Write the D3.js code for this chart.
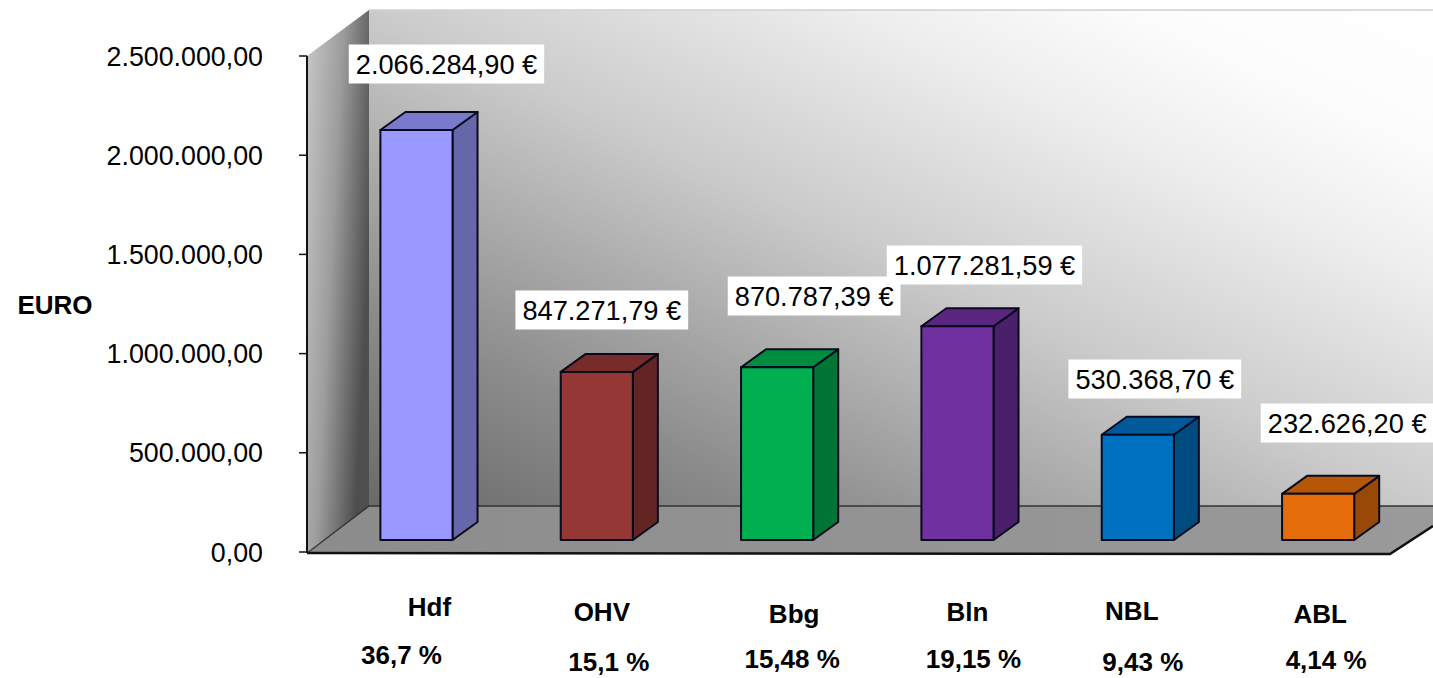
<!DOCTYPE html>
<html><head><meta charset="utf-8">
<script src="https://cdnjs.cloudflare.com/ajax/libs/d3/7.9.0/d3.min.js"></script>
<style>html,body{margin:0;padding:0;background:#fff;overflow:hidden}svg{display:block}text{font-family:"Liberation Sans",Arial,sans-serif;fill:#000}</style>
</head><body><svg id="c" width="1433" height="678"></svg>
<script>
const categories=["Hdf","OHV","Bbg","Bln","NBL","ABL"];
const values=[2066284.90,847271.79,870787.39,1077281.59,530368.70,232626.20];
const valueLabels=["2.066.284,90 €","847.271,79 €","870.787,39 €","1.077.281,59 €","530.368,70 €","232.626,20 €"];
const shares=["36,7 %","15,1 %","15,48 %","19,15 %","9,43 %","4,14 %"];
const tickValues=[0,500000,1000000,1500000,2000000,2500000];
const tickLabels=["0,00","500.000,00","1.000.000,00","1.500.000,00","2.000.000,00","2.500.000,00"];
const frontColors=["#9999ff","#953735","#00b050","#7030a0","#0070c0","#e46c0a"];
const topColors=["#7a7acc","#772c2a","#008d40","#5a2680","#005a9a","#b65608"];
const sideColors=["#6666aa","#632523","#007535","#4a206a","#004b80","#984807"];
// label placement, relative to the category slot
const labelDx=[30,5,37,27,17,29];
const labelCy=[64,310,296,265,379,423];
const catDx=[13,5,17,10,-6,2];
const catCy=[607,612,614,612,611,614];
const shareDx=[-15,12,15,16,5,8];
const shareCy=[655,662,659,659,662,660];

const svg=d3.select("#c");
const y=d3.scaleLinear().domain([0,2500000]).range([552,56]);
const x=d3.scaleBand().domain(categories).range([326.3,1408.3]).paddingInner(0.6).paddingOuter(0.3);
const deep={x:62,y:-46}, bd={x:25,y:-18}, base=12, ax=307;
const defs=svg.append("defs");
function grad(id,x1,y1,x2,y2,stops){
  const g=defs.append("linearGradient").attr("id",id).attr("x1",x1).attr("y1",y1).attr("x2",x2).attr("y2",y2);
  stops.forEach(s=>g.append("stop").attr("offset",s[0]).attr("stop-color",s[1]));
}
grad("back",0,1,1,0,[[0,"#6a6a6a"],[0.2,"#8c8c8c"],[0.5,"#cbcbcb"],[0.73,"#eeeeee"],[0.86,"#fcfcfc"],[1,"#ffffff"]]);
grad("left",0,0,1,0.45,[[0,"#c8c8c8"],[0.5,"#9c9c9c"],[1,"#4e4e4e"]]);
grad("floor",0,0,1,0,[[0,"#8c8c8c"],[1,"#9a9a9a"]]);
const line=d3.line();
const y0=y(0), yT=y(2500000);
// walls & floor
svg.append("path").attr("d",line([[ax+deep.x,yT+deep.y],[1433,yT+deep.y],[1433,y0+deep.y],[ax+deep.x,y0+deep.y]])+"Z").attr("fill","url(#back)");
svg.append("path").attr("d",line([[ax+deep.x,yT+deep.y],[1433,yT+deep.y]])).attr("stroke","#d0d0d0").attr("stroke-width",1.5);
svg.append("path").attr("d",line([[ax,yT],[ax+deep.x,yT+deep.y],[ax+deep.x,y0+deep.y],[ax,y0]])+"Z").attr("fill","url(#left)");
svg.append("path").attr("d",line([[ax,y0+1],[ax+deep.x,y0+deep.y],[1433,y0+deep.y],[1433,y0-26],[1390,y0+2]])+"Z").attr("fill","url(#floor)");
svg.append("path").attr("d",line([[ax,y0+1],[ax+deep.x,y0+deep.y],[1433,y0+deep.y]])).attr("fill","none").attr("stroke","#333").attr("stroke-width",1.5);
svg.append("path").attr("d",line([[ax,y0+1],[1390,y0+2],[1433,y0-26]])).attr("fill","none").attr("stroke","#111").attr("stroke-width",2.5);
// axis
svg.append("line").attr("x1",ax).attr("x2",ax).attr("y1",yT).attr("y2",y0+1).attr("stroke","#111").attr("stroke-width",2);
const t=svg.append("g").selectAll("g").data(tickValues).join("g");
t.append("line").attr("x1",ax-8).attr("x2",ax).attr("y1",d=>y(d)).attr("y2",d=>y(d)).attr("stroke","#111").attr("stroke-width",1.5);
t.append("text").attr("x",263).attr("y",d=>y(d)+9.5).attr("text-anchor","end").attr("font-size",26.8).text((d,i)=>tickLabels[i]);
// bars
const bars=svg.append("g").selectAll("g").data(categories).join("g");
const X=d=>x(d), W=x.bandwidth(), B=y0-base;
const H=(i)=>y0-y(values[i]);
const st=g=>g.attr("stroke","#0a0a1e").attr("stroke-width",2).attr("stroke-linejoin","round");
bars.append("path").attr("d",(d,i)=>line([[X(d)+W,B],[X(d)+W+bd.x,B+bd.y],[X(d)+W+bd.x,B-H(i)+bd.y],[X(d)+W,B-H(i)]])+"Z").attr("fill",(d,i)=>sideColors[i]).call(st);
bars.append("path").attr("d",(d,i)=>line([[X(d),B-H(i)],[X(d)+bd.x,B-H(i)+bd.y],[X(d)+W+bd.x,B-H(i)+bd.y],[X(d)+W,B-H(i)]])+"Z").attr("fill",(d,i)=>topColors[i]).call(st);
bars.append("rect").attr("x",d=>X(d)).attr("y",(d,i)=>B-H(i)).attr("width",W).attr("height",(d,i)=>H(i)).attr("fill",(d,i)=>frontColors[i]).call(st);
const cx=d=>X(d)+W/2;
// value labels
const vl=svg.append("g").selectAll("g").data(categories).join("g").attr("transform",(d,i)=>`translate(${cx(d)+labelDx[i]},${labelCy[i]})`);
vl.append("text").attr("text-anchor","middle").attr("y",9.5).attr("font-size",27.2).text((d,i)=>valueLabels[i]);
vl.insert("rect","text").each(function(){
  const b=this.parentNode.querySelector("text").getBBox();
  d3.select(this).attr("x",b.x-7).attr("width",b.width+14).attr("y",-19.5).attr("height",39).attr("fill","#fff");
});
// bold labels
const bold=(arr,dx,cy)=>svg.append("g").selectAll("text").data(categories).join("text")
  .attr("x",(d,i)=>cx(d)+dx[i]).attr("y",(d,i)=>cy[i]+9).attr("text-anchor","middle")
  .attr("font-size",26).attr("font-weight","bold").text((d,i)=>arr[i]);
bold(categories,catDx,catCy);
bold(shares,shareDx,shareCy);
svg.append("text").attr("x",55).attr("y",314).attr("text-anchor","middle").attr("font-size",26).attr("font-weight","bold").text("EURO");
</script></body></html>
